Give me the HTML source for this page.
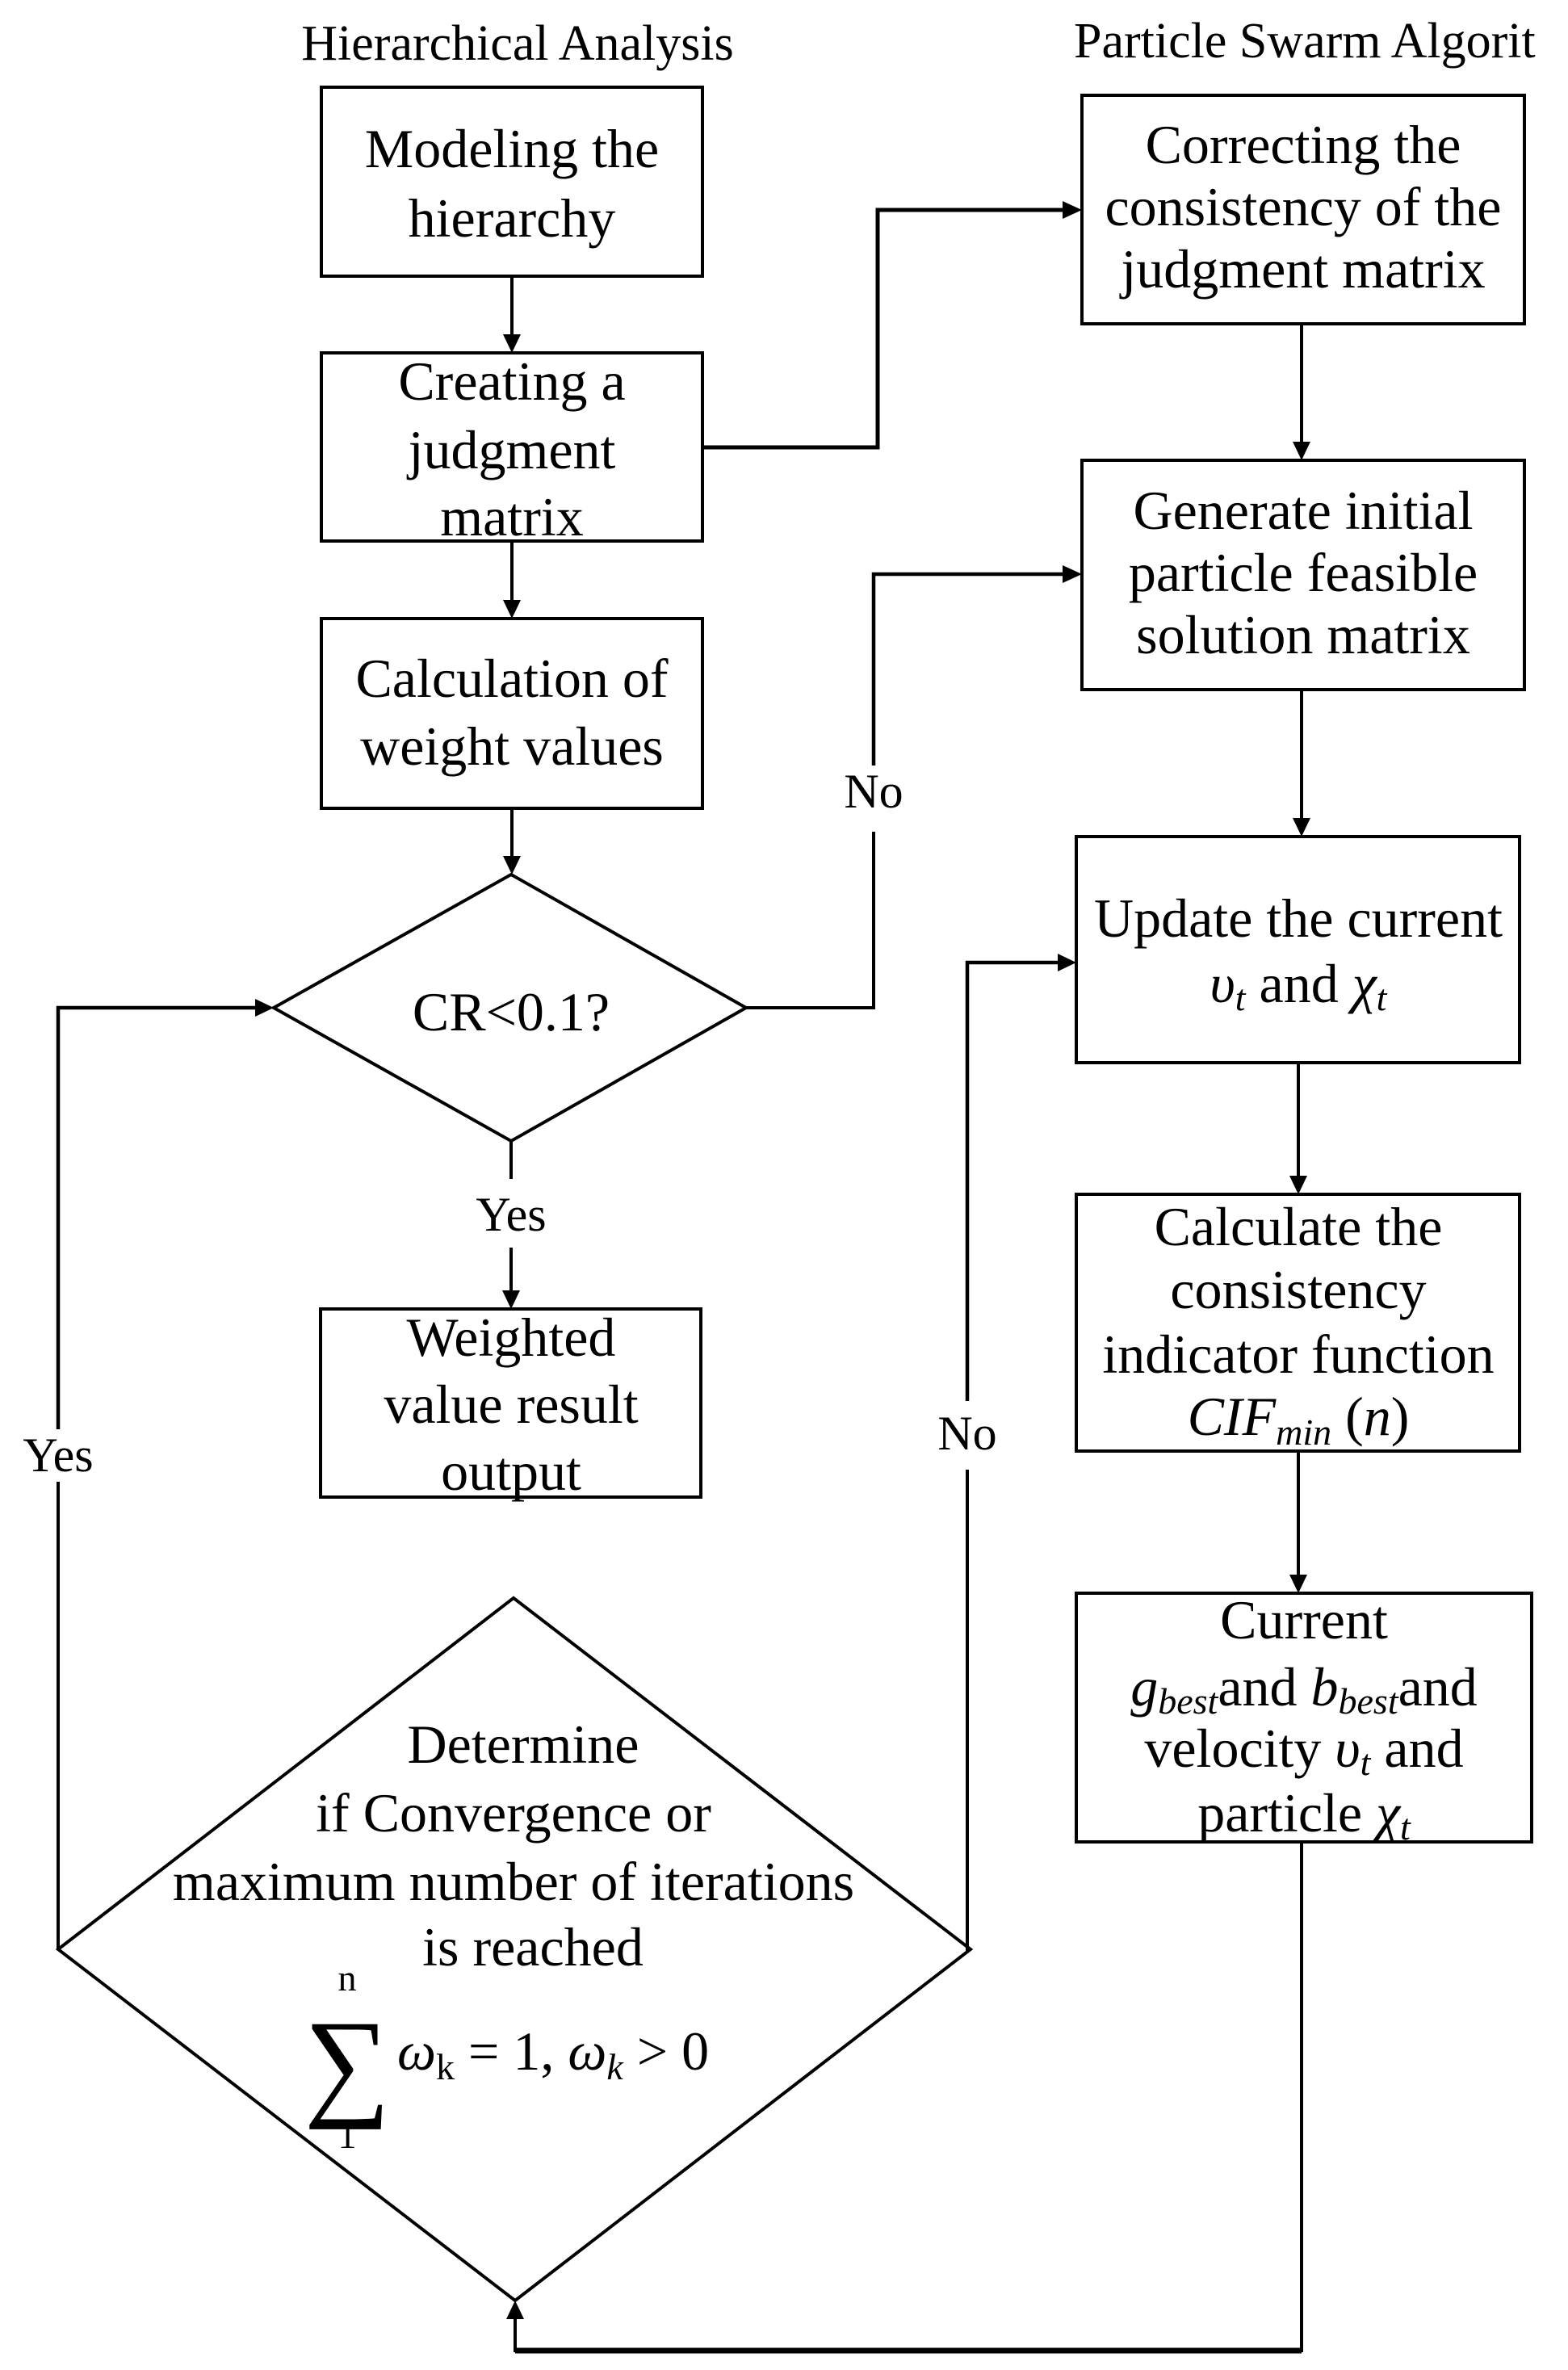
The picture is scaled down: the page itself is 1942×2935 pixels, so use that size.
<!DOCTYPE html>
<html><head><meta charset="utf-8"><style>
html,body{margin:0;padding:0;background:#fff;}
svg{display:block;}
text{font-family:"Liberation Serif",serif;fill:#000;}
</style></head><body>
<svg width="1942" height="2935" viewBox="0 0 1942 2935" xmlns="http://www.w3.org/2000/svg">
<defs>
<marker id="a" markerWidth="10" markerHeight="10" refX="9" refY="5" orient="auto" markerUnits="userSpaceOnUse" viewBox="0 0 10 10">
</marker>
</defs>
<g fill="none" stroke="#000" stroke-width="4">
<!-- left boxes -->
<rect x="398" y="108" width="472" height="234"/>
<rect x="398" y="437" width="472" height="233"/>
<rect x="398" y="766" width="472" height="235"/>
<polygon points="633,1083 924,1248 633,1413 339,1248"/>
<rect x="397" y="1621" width="471" height="233"/>
<polygon points="636,1979 1202,2414 638,2849 72,2414"/>
<!-- right boxes -->
<rect x="1340" y="118" width="548" height="283"/>
<rect x="1340" y="570" width="548" height="284"/>
<rect x="1333" y="1036" width="549" height="280"/>
<rect x="1333" y="1479" width="549" height="318"/>
<rect x="1333" y="1973" width="564" height="308"/>
<!-- connectors -->
<line x1="634" y1="342" x2="634" y2="416"/>
<line x1="634" y1="670" x2="634" y2="745"/>
<line x1="634" y1="1001" x2="634" y2="1062"/>
<line x1="633" y1="1413" x2="633" y2="1460"/>
<line x1="633" y1="1545" x2="633" y2="1600"/>
<polyline points="870,554 1087,554 1087,260 1318,260" stroke-width="5"/>
<polyline points="924,1248 1082,1248 1082,1030"/>
<polyline points="1082,948 1082,711 1318,711" stroke-width="4.5"/>
<line x1="1612" y1="401" x2="1612" y2="549"/>
<line x1="1612" y1="854" x2="1612" y2="1015"/>
<line x1="1608" y1="1316" x2="1608" y2="1458"/>
<line x1="1608" y1="1797" x2="1608" y2="1952"/>
<polyline points="1202,2414 1198,2414 1198,1820"/>
<polyline points="1198,1735 1198,1192 1312,1192" stroke-width="4.5"/>
<polyline points="72,2414 72,1835"/>
<polyline points="72,1770 72,1248 318,1248" stroke-width="4.5"/>
<polyline points="1612,2281 1612,2911 638,2911 638,2870" stroke-width="4"/>
<line x1="1612" y1="2911" x2="638" y2="2911" stroke-width="7"/>
</g>
<g fill="#000">
<polygon points="623,414 645,414 634,437"/>
<polygon points="623,743 645,743 634,766"/>
<polygon points="623,1060 645,1060 634,1083"/>
<polygon points="622,1598 644,1598 633,1621"/>
<polygon points="1316,249 1316,271 1340,260"/>
<polygon points="1316,700 1316,722 1340,711"/>
<polygon points="1601,547 1623,547 1612,570"/>
<polygon points="1601,1013 1623,1013 1612,1036"/>
<polygon points="1597,1456 1619,1456 1608,1479"/>
<polygon points="1597,1950 1619,1950 1608,1973"/>
<polygon points="1310,1181 1310,1203 1333,1192"/>
<polygon points="316,1237 316,1259 339,1248"/>
<polygon points="627,2872 649,2872 638,2849"/>
</g>
<g font-size="62" text-anchor="middle">
<text x="641" y="74">Hierarchical Analysis</text>
<text x="1330" y="71" text-anchor="start">Particle Swarm Algorit</text>
</g>
<g font-size="68" text-anchor="middle">
<text x="634" y="207">Modeling the</text>
<text x="634" y="293">hierarchy</text>
<text x="634" y="495">Creating a</text>
<text x="634" y="580">judgment</text>
<text x="634" y="663">matrix</text>
<text x="634" y="863">Calculation of</text>
<text x="634" y="947">weight values</text>
<text x="633" y="1276">CR&lt;0.1?</text>
<text x="633" y="1679">Weighted</text>
<text x="633" y="1762">value result</text>
<text x="633" y="1845">output</text>
<text x="1614" y="202">Correcting the</text>
<text x="1614" y="279">consistency of the</text>
<text x="1614" y="356">judgment matrix</text>
<text x="1614" y="655">Generate initial</text>
<text x="1614" y="732">particle feasible</text>
<text x="1614" y="809">solution matrix</text>
<text x="1608" y="1160">Update the current</text>
<text x="1608" y="1241"><tspan font-style="italic">υ</tspan><tspan font-style="italic" font-size="46" dy="10">t</tspan><tspan dy="-10">  and  </tspan><tspan font-style="italic">χ</tspan><tspan font-style="italic" font-size="46" dy="10">t</tspan></text>
<text x="1608" y="1542">Calculate the</text>
<text x="1608" y="1620">consistency</text>
<text x="1608" y="1700">indicator function</text>
<text x="1608" y="1777"><tspan font-style="italic">CIF</tspan><tspan font-style="italic" font-size="46" dy="12">min</tspan><tspan dy="-12"> (</tspan><tspan font-style="italic">n</tspan>)</text>
<text x="1615" y="2029">Current</text>
<text x="1615" y="2112"><tspan font-style="italic">g</tspan><tspan font-style="italic" font-size="46" dy="10">best</tspan><tspan dy="-10">and </tspan><tspan font-style="italic">b</tspan><tspan font-style="italic" font-size="46" dy="10">best</tspan><tspan dy="-10">and</tspan></text>
<text x="1615" y="2188">velocity <tspan font-style="italic">υ</tspan><tspan font-style="italic" font-size="46" dy="10">t</tspan><tspan dy="-10"> and</tspan></text>
<text x="1615" y="2268">particle <tspan font-style="italic">χ</tspan><tspan font-style="italic" font-size="46" dy="10">t</tspan></text>
<text x="648" y="2183">Determine</text>
<text x="636" y="2268">if Convergence or</text>
<text x="636" y="2353">maximum number of iterations</text>
<text x="660" y="2434">is reached</text>
<text x="492" y="2563" text-anchor="start"><tspan font-style="italic">ω</tspan><tspan font-size="46" dy="12">k</tspan><tspan dy="-12"> = 1,  </tspan><tspan font-style="italic">ω</tspan><tspan font-style="italic" font-size="46" dy="12">k</tspan><tspan dy="-12"> &gt; 0</tspan></text>
</g>
<g font-size="46" text-anchor="middle">
<text x="430" y="2465">n</text>
<text x="430" y="2660">1</text>
</g>
<text x="430" y="2605" font-size="150" text-anchor="middle">∑</text>
<g font-size="60" text-anchor="middle">
<text x="633" y="1524">Yes</text>
<text x="1082" y="1000">No</text>
<text x="1198" y="1795">No</text>
<text x="72" y="1822">Yes</text>
</g>
</svg>
</body></html>
